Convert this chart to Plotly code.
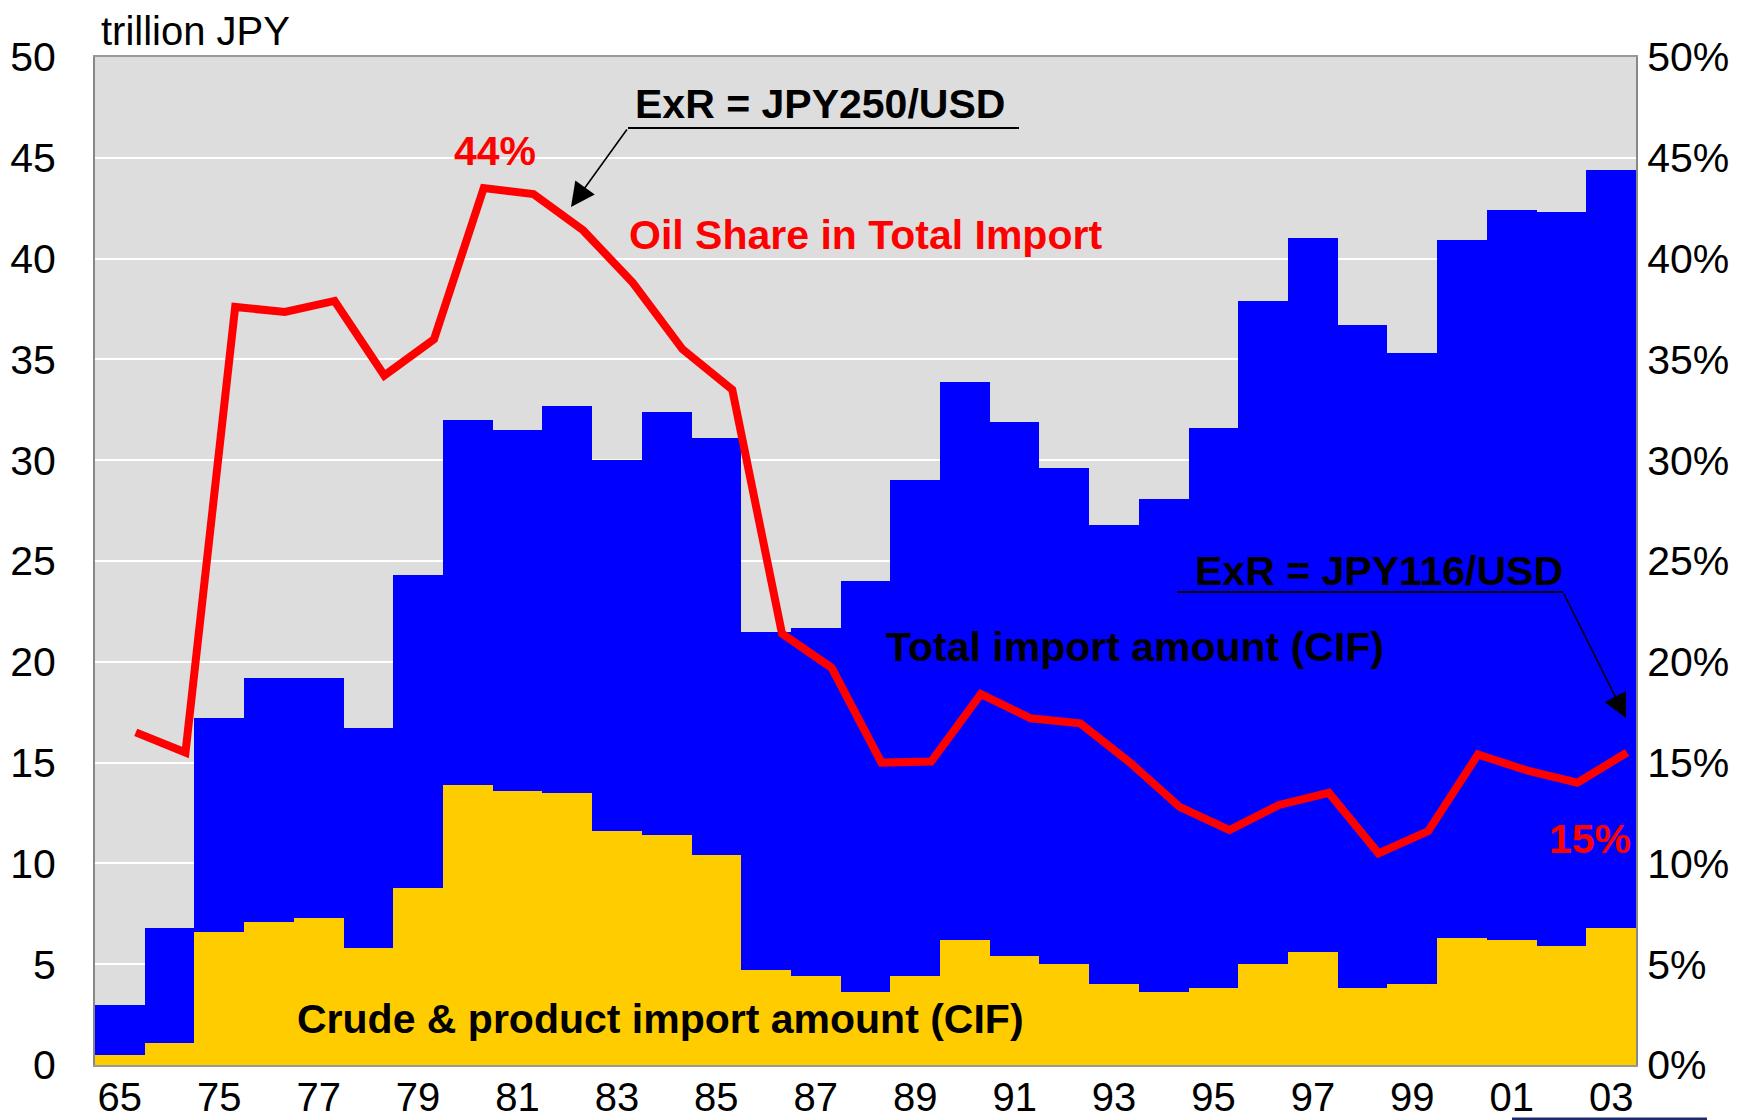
import plotly.graph_objects as go

# ---------------- data ----------------
years = ["65", "70", "75", "76", "77", "78", "79", "80", "81", "82", "83", "84", "85",
         "86", "87", "88", "89", "90", "91", "92", "93", "94", "95", "96", "97", "98",
         "99", "00", "01", "02", "03"]

total_import = [3.0, 6.8, 17.2, 19.2, 19.2, 16.7, 24.3, 32.0, 31.5, 32.7, 30.0, 32.4, 31.1,
                21.5, 21.7, 24.0, 29.0, 33.9, 31.9, 29.6, 26.8, 28.1, 31.6, 37.9, 41.0,
                36.7, 35.3, 40.9, 42.4, 42.3, 44.4]

oil_import = [0.5, 1.1, 6.6, 7.1, 7.3, 5.8, 8.8, 13.9, 13.6, 13.5, 11.6, 11.4, 10.4,
              4.7, 4.4, 3.6, 4.4, 6.2, 5.4, 5.0, 4.0, 3.6, 3.8, 5.0, 5.6, 3.8, 4.0,
              6.3, 6.2, 5.9, 6.8]

oil_share = [16.5, 15.5, 37.6, 37.35, 37.9, 34.2, 36.0, 43.5, 43.2, 41.4, 38.8, 35.5, 33.5,
             21.4, 19.7, 15.0, 15.05, 18.4, 17.2, 16.95, 15.0, 12.8, 11.65, 12.9, 13.5,
             10.5, 11.6, 15.4, 14.6, 14.0, 15.5]

left_ticks = [0, 5, 10, 15, 20, 25, 30, 35, 40, 45, 50]
right_ticks = [0, 5, 10, 15, 20, 25, 30, 35, 40, 45, 50]

# ---------------- geometry (screen pixels -> paper) ----------------
W, H = 1745, 1120
OFF = 8                      # page body margin shifts the figure
SL, ST, SR, SB = 95, 57, 1636, 1065   # plot area on screen
L, T = SL - OFF, ST - OFF
R, B = W - (SR - OFF), H - (SB - OFF)


def px(xp):
    return (xp - SL) / (SR - SL)


def py(yp):
    return (SB - yp) / (SB - ST)


FONT = "Liberation Sans, Arial, sans-serif"
idx = list(range(len(years)))
line_x = [i + 0.32 for i in idx]

fig = go.Figure()
fig.add_trace(go.Bar(x=idx, y=total_import, width=1.0, marker=dict(color="#0000FF", line=dict(width=0)),
                     name="Total import amount (CIF)", showlegend=False))
fig.add_trace(go.Bar(x=idx, y=oil_import, width=1.0, marker=dict(color="#FFCC00", line=dict(width=0)),
                     name="Crude & product import amount (CIF)", showlegend=False))
fig.add_trace(go.Scatter(x=line_x, y=oil_share, yaxis="y2", mode="lines",
                         line=dict(color="#FF0000", width=8), name="Oil Share in Total Import",
                         showlegend=False))

fig.update_layout(
    width=W, height=H,
    margin=dict(l=L, r=R, t=T, b=B, autoexpand=False),
    paper_bgcolor="white",
    plot_bgcolor="#DDDDDD",
    barmode="overlay",
    bargap=0,
    font=dict(family=FONT, size=41, color="black"),
    xaxis=dict(range=[-0.5, len(years) - 0.5], tickmode="array",
               tickvals=idx[::2], ticktext=years[::2], automargin=False,
               showgrid=False, zeroline=False, showline=True, linecolor="#999999", linewidth=2,
               mirror=True, ticks="", ticklabelstandoff=-4,
               tickfont=dict(family=FONT, size=40, color="black")),
    yaxis=dict(range=[0, 50], tickvals=left_ticks, ticktext=[str(v) for v in left_ticks],
               automargin=False,
               showgrid=True, gridcolor="white", gridwidth=2, zeroline=False,
               showline=True, linecolor="#888888", linewidth=2, mirror=True,
               ticks="outside", ticklen=29, tickcolor="rgba(0,0,0,0)",
               tickfont=dict(family=FONT, size=41, color="black")),
    yaxis2=dict(range=[0, 50], overlaying="y", side="right", tickvals=right_ticks,
                ticktext=[f"{v}%" for v in right_ticks], showgrid=False, zeroline=False,
                automargin=False,
                showline=False, ticks="outside", ticklen=2, tickcolor="rgba(0,0,0,0)",
                tickfont=dict(family=FONT, size=41, color="black")),
)

ann = []
# axis unit
ann.append(dict(text="trillion JPY", xref="paper", yref="paper", x=px(100), y=py(31),
                xanchor="left", yanchor="middle", showarrow=False, borderpad=0,
                font=dict(family=FONT, size=40, color="black")))
# ExR 250
ann.append(dict(text="<b>ExR = JPY250/USD</b>", xref="paper", yref="paper", x=px(820), y=py(104),
                xanchor="center", yanchor="middle", showarrow=False,
                font=dict(family=FONT, size=41, color="black")))
ann.append(dict(text="", xref="paper", yref="paper", x=px(571), y=py(207), ax=57, ay=-79,
                showarrow=True, arrowhead=2, arrowsize=3, arrowwidth=1.6, arrowcolor="black"))
# Oil share label
ann.append(dict(text="<b>Oil Share in Total Import</b>", xref="paper", yref="paper", x=px(865), y=py(235),
                xanchor="center", yanchor="middle", showarrow=False,
                font=dict(family=FONT, size=41, color="#FF0000")))
ann.append(dict(text="<b>44%</b>", xref="paper", yref="paper", x=px(495), y=py(151),
                xanchor="center", yanchor="middle", showarrow=False,
                font=dict(family=FONT, size=41, color="#FF0000")))
ann.append(dict(text="<b>15%</b>", xref="paper", yref="paper", x=px(1590), y=py(839),
                xanchor="center", yanchor="middle", showarrow=False,
                font=dict(family=FONT, size=41, color="#FF0000")))
# ExR 116
ann.append(dict(text="<b>ExR = JPY116/USD</b>", xref="paper", yref="paper", x=px(1379), y=py(571),
                xanchor="center", yanchor="middle", showarrow=False,
                font=dict(family=FONT, size=41, color="black")))
ann.append(dict(text="", xref="paper", yref="paper", x=px(1626), y=py(718), ax=-63, ay=-126,
                showarrow=True, arrowhead=2, arrowsize=3, arrowwidth=1.6, arrowcolor="black"))
# series labels
ann.append(dict(text="<b>Total import amount (CIF)</b>", xref="paper", yref="paper", x=px(1135), y=py(647),
                xanchor="center", yanchor="middle", showarrow=False,
                font=dict(family=FONT, size=41, color="black")))
ann.append(dict(text="<b>Crude &amp; product import amount (CIF)</b>", xref="paper", yref="paper",
                x=px(660), y=py(1019), xanchor="center", yanchor="middle", showarrow=False,
                font=dict(family=FONT, size=41, color="black")))
fig.update_layout(annotations=ann)

shapes = [
    dict(type="line", xref="paper", yref="paper", x0=px(628), x1=px(1019), y0=py(128), y1=py(128),
         line=dict(color="black", width=2)),
    dict(type="line", xref="paper", yref="paper", x0=px(1177), x1=px(1563), y0=py(592), y1=py(592),
         line=dict(color="black", width=2)),
    dict(type="line", xref="paper", yref="paper", x0=px(1512), x1=px(1707), y0=py(1119), y1=py(1119),
         line=dict(color="#1F2A6B", width=3)),
]
fig.update_layout(shapes=shapes)

fig.write_html("out.html")
